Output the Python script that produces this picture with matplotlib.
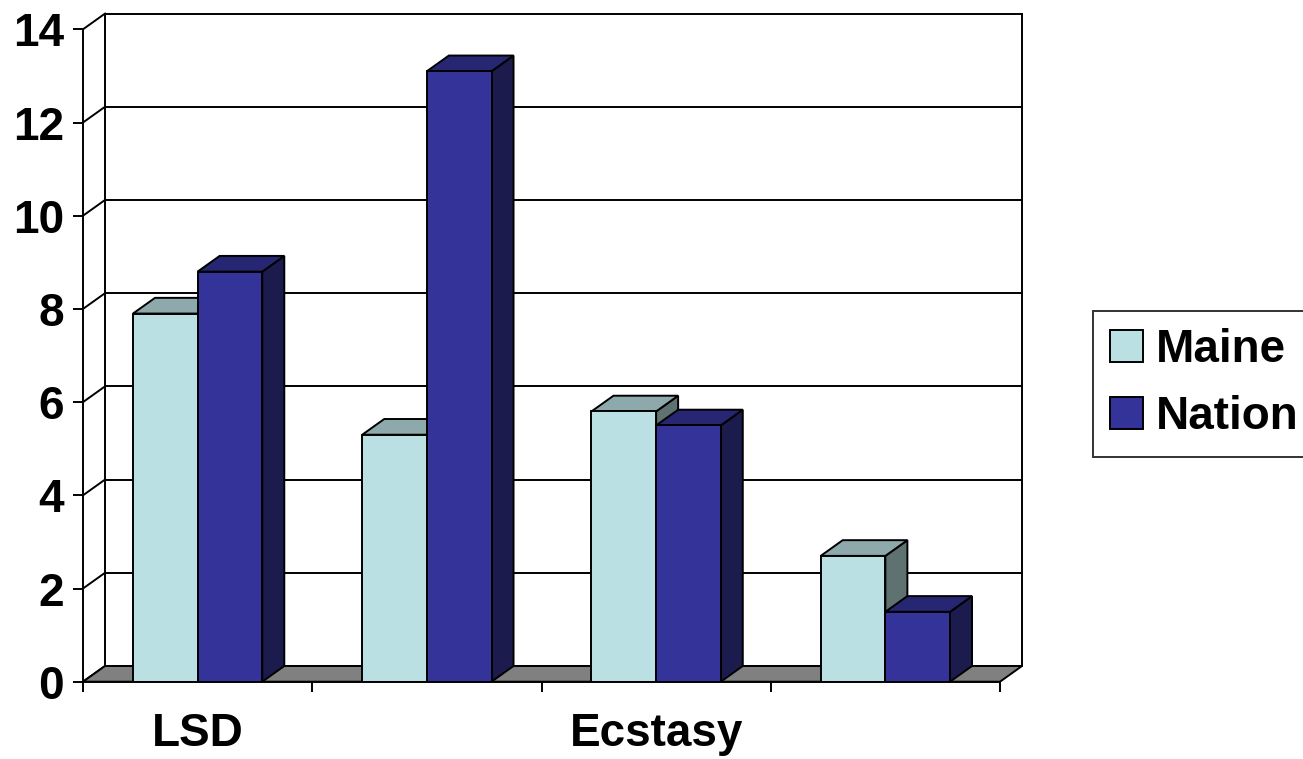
import matplotlib
matplotlib.use("Agg")
import matplotlib.pyplot as plt
from matplotlib.patches import Polygon, Patch

plt.rcParams['font.family'] = ['Liberation Sans', 'DejaVu Sans']
plt.rcParams['font.weight'] = 'bold'

categories = ["LSD", "", "Ecstasy", ""]
maine = [7.9, 5.3, 5.8, 2.7]
nation = [8.8, 13.1, 5.5, 1.5]
series_names = ["Maine", "Nation"]

front_colors = ['#BBE0E3', '#333399']
top_colors = ['#8EA9AB', '#262673']
side_colors = ['#5F7272', '#1B1B4D']

# depth of the 3d box in data units
dx = 0.096
dy = 0.337
w = 0.282
ymax = 14

fig = plt.figure(figsize=(13.03, 7.59), dpi=100)
W, H = 1303, 759
px_x = 229.25
px_y = 46.6
left, bottom = 83, 759 - 681.7
ax = fig.add_axes([left / W, bottom / H,
                   (4 + dx) * px_x / W, (ymax + dy) * px_y / H])
ax.set_xlim(0, 4 + dx)
ax.set_ylim(0, ymax + dy)
ax.patch.set_visible(False)

n = len(categories)
lw = 1.4

# back wall and side wall grid
for v in range(0, ymax + 1, 2):
    ax.plot([dx, n + dx], [v + dy, v + dy], color='black', lw=lw, zorder=1, clip_on=False)
    ax.plot([0, dx], [v, v + dy], color='black', lw=lw, zorder=1, clip_on=False)
ax.plot([dx, dx], [dy, ymax + dy], color='black', lw=lw, zorder=1, clip_on=False)
ax.plot([n + dx, n + dx], [dy, ymax + dy], color='black', lw=lw, zorder=1, clip_on=False)

# floor
ax.add_patch(Polygon([(0, 0), (n, 0), (n + dx, dy), (dx, dy)], closed=True,
                     facecolor='#808080', edgecolor='black', lw=lw, zorder=2))

for j, vals in enumerate([maine, nation]):
    xs = [i + 0.5 - w + j * w for i in range(n)]
    for x0, h in zip(xs, vals):
        ax.add_patch(Polygon([(x0 + w, 0), (x0 + w + dx, dy), (x0 + w + dx, h + dy), (x0 + w, h)],
                             closed=True, facecolor=side_colors[j], edgecolor='black',
                             lw=lw, zorder=3 + 2 * j))
        ax.add_patch(Polygon([(x0, h), (x0 + w, h), (x0 + w + dx, h + dy), (x0 + dx, h + dy)],
                             closed=True, facecolor=top_colors[j], edgecolor='black',
                             lw=lw, zorder=3 + 2 * j))
    ax.bar(xs, vals, width=w, align='edge', color=front_colors[j],
           edgecolor='black', lw=lw, zorder=4 + 2 * j)

# axes
for s in ['top', 'right']:
    ax.spines[s].set_visible(False)
ax.spines['left'].set_bounds(0, ymax)
ax.spines['bottom'].set_bounds(0, n)
ax.spines['left'].set_linewidth(lw)
ax.spines['bottom'].set_linewidth(lw)
ax.spines['left'].set_zorder(10)
ax.spines['bottom'].set_zorder(10)

ax.set_yticks(range(0, ymax + 1, 2))
ax.tick_params(axis='y', length=7.5, width=lw, pad=6, labelsize=33)
ax.set_xticks([i + 0.5 for i in range(n)])
ax.set_xticklabels(categories)
ax.set_xticks(range(0, n + 1), minor=True)
ax.tick_params(axis='x', which='major', length=0, pad=22, labelsize=33)
ax.tick_params(axis='x', which='minor', length=7, width=lw)
for t in ax.get_yticklabels() + ax.get_xticklabels():
    t.set_fontweight('bold')

handles = [Patch(facecolor=front_colors[k], edgecolor='black', lw=lw) for k in range(2)]
leg = fig.legend(handles, series_names, loc='upper left',
                 bbox_to_anchor=(1093 / W, 1 - 311 / H), borderaxespad=0,
                 prop={'size': 33, 'weight': 'bold'}, frameon=True, fancybox=False,
                 edgecolor='black', handlelength=0.7, handleheight=0.7,
                 handletextpad=0.3, borderpad=0.38, labelspacing=0.5)
leg.get_frame().set_linewidth(lw)

fig.savefig('out.png', dpi=100)
